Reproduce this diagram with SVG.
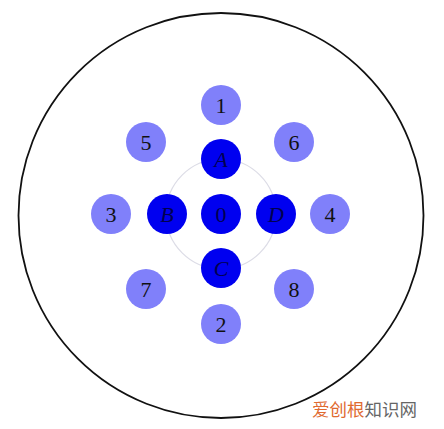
<svg xmlns="http://www.w3.org/2000/svg" width="444" height="429" viewBox="0 0 444 429">
<style>
.light{fill:#8080fa}
.dark{fill:#0000f0}
.lbl{font-family:"Liberation Serif","DejaVu Serif",serif;font-size:22px;text-anchor:middle;dominant-baseline:central;fill:#111}
.it{font-style:italic;fill:#000050}
.wm{font-family:"Noto Sans CJK SC",sans-serif;font-size:17.5px}
</style>
<rect width="444" height="429" fill="#fff"/>
<circle cx="221" cy="215.5" r="202.5" fill="none" stroke="#111" stroke-width="1.8"/>
<g id="connectors">
<circle cx="221" cy="214" r="55" fill="none" stroke="#dcdce6" stroke-width="1.2"/>
</g>
<g id="n1"><circle class="light" cx="221" cy="105" r="20"/><text class="lbl" x="221" y="105">1</text></g>
<g id="n2"><circle class="light" cx="221" cy="324" r="20"/><text class="lbl" x="221" y="324">2</text></g>
<g id="n3"><circle class="light" cx="111" cy="214" r="20"/><text class="lbl" x="111" y="214">3</text></g>
<g id="n4"><circle class="light" cx="330" cy="214" r="20"/><text class="lbl" x="330" y="214">4</text></g>
<g id="n5"><circle class="light" cx="146" cy="142" r="20"/><text class="lbl" x="146" y="142">5</text></g>
<g id="n6"><circle class="light" cx="294" cy="142" r="20"/><text class="lbl" x="294" y="142">6</text></g>
<g id="n7"><circle class="light" cx="146" cy="289" r="20"/><text class="lbl" x="146" y="289">7</text></g>
<g id="n8"><circle class="light" cx="294" cy="289" r="20"/><text class="lbl" x="294" y="289">8</text></g>
<g id="nA"><circle class="dark" cx="221" cy="159" r="20"/><text class="lbl it" x="221" y="159">A</text></g>
<g id="nB"><circle class="dark" cx="167" cy="214" r="20"/><text class="lbl it" x="167" y="214">B</text></g>
<g id="n0"><circle class="dark" cx="221" cy="214" r="20"/><text class="lbl" x="221" y="214" style="fill:#000050">0</text></g>
<g id="nD"><circle class="dark" cx="276" cy="214" r="20"/><text class="lbl it" x="276" y="214">D</text></g>
<g id="nC"><circle class="dark" cx="221" cy="268" r="20"/><text class="lbl it" x="221" y="268">C</text></g>
<text class="wm" x="312" y="416"><tspan fill="#e06a30">爱创根</tspan><tspan fill="#666">知识网</tspan></text>
</svg>
